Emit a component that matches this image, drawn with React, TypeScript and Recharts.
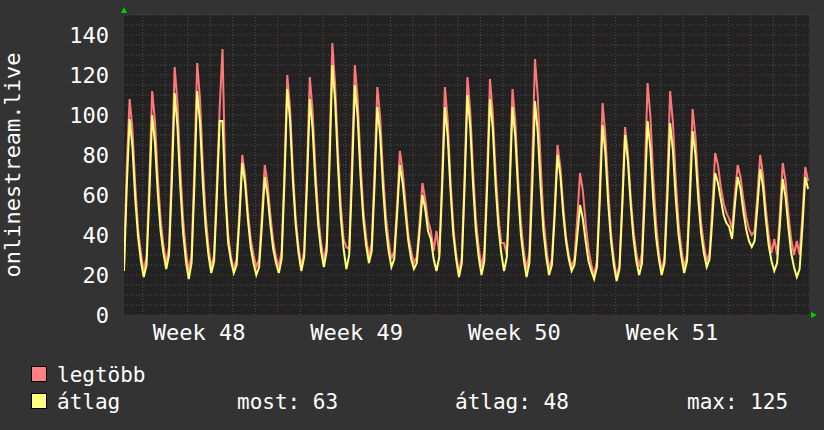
import { LineChart, Line, XAxis, YAxis, CartesianGrid, ReferenceLine } from 'recharts';

// 3-hourly samples (hours 1,4,7,...,22 of each day), first sample at hour 4 of week 48's Monday
const legtobbWeek48 = [
  25, 75, 108, 93, 65, 43, 31,
  22, 29, 67, 112, 97, 69, 48, 35,
  26, 34, 75, 124, 106, 73, 48, 32,
  22, 30, 74, 126, 108, 75, 50, 34,
  24, 30, 66, 104, 133, 66, 40, 29,
  23, 28, 52, 80, 70, 52, 38, 30,
  24, 28, 50, 75, 66, 50, 37, 29,
];
const legtobbWeek49 = [
  24, 32, 72, 120, 103, 72, 48, 34,
  24, 32, 72, 119, 102, 73, 50, 36,
  27, 36, 82, 136, 115, 82, 55, 38,
  34, 33, 78, 125, 108, 77, 53, 39,
  29, 36, 72, 114, 99, 71, 50, 37,
  28, 32, 55, 82, 72, 56, 40, 32,
  26, 29, 46, 66, 58, 47, 42, 32,
];
const legtobbWeek50 = [
  42, 30, 69, 114, 97, 67, 44, 30,
  21, 29, 70, 119, 102, 72, 48, 34,
  24, 32, 71, 118, 101, 72, 50, 36,
  36, 30, 68, 113, 97, 68, 46, 32,
  23, 31, 76, 128, 109, 76, 49, 34,
  23, 28, 54, 85, 74, 55, 39, 30,
  24, 28, 48, 71, 62, 46, 33, 25,
];
const legtobbWeek51 = [
  20, 27, 63, 106, 90, 63, 41, 28,
  19, 25, 57, 94, 81, 59, 42, 31,
  24, 31, 70, 116, 99, 69, 46, 31,
  22, 29, 67, 112, 96, 68, 46, 33,
  24, 30, 64, 103, 89, 65, 46, 35,
  27, 31, 54, 81, 75, 64, 56, 51,
  48, 43, 60, 75, 69, 58, 49, 43,
];
const legtobbWeek52 = [
  40, 42, 60, 80, 70, 53, 40, 31,
  38, 30, 51, 76, 67, 51, 38, 30,
  37, 30, 50, 74, 67,
];

const atlagWeek48 = [
  22, 65, 98, 84, 58, 39, 27,
  19, 25, 60, 100, 86, 61, 42, 31,
  23, 30, 67, 111, 94, 64, 41, 27,
  18, 26, 65, 112, 96, 66, 44, 30,
  21, 27, 60, 97, 97, 60, 36, 27,
  21, 25, 48, 76, 66, 48, 34, 26,
  20, 24, 45, 69, 60, 45, 33, 26,
];
const atlagWeek49 = [
  21, 28, 67, 113, 97, 67, 45, 31,
  22, 29, 65, 108, 93, 66, 45, 32,
  24, 32, 75, 125, 107, 75, 49, 33,
  23, 30, 69, 115, 99, 70, 48, 35,
  26, 32, 65, 104, 90, 64, 44, 32,
  24, 28, 50, 75, 66, 51, 37, 28,
  23, 26, 42, 60, 53, 42, 38, 28,
];
const atlagWeek50 = [
  22, 29, 63, 104, 89, 62, 40, 28,
  19, 26, 65, 110, 94, 65, 42, 29,
  20, 27, 64, 108, 93, 65, 44, 31,
  22, 29, 63, 104, 89, 62, 40, 28,
  19, 26, 63, 107, 91, 64, 42, 29,
  20, 25, 50, 80, 70, 51, 37, 28,
  22, 25, 39, 55, 48, 37, 27, 22,
];
const atlagWeek51 = [
  18, 24, 57, 95, 81, 56, 37, 25,
  17, 23, 54, 90, 77, 55, 38, 27,
  20, 26, 59, 97, 83, 58, 39, 28,
  20, 26, 58, 96, 82, 58, 40, 29,
  21, 27, 57, 92, 80, 58, 41, 31,
  24, 28, 48, 71, 66, 58, 50, 46,
  44, 38, 55, 69, 63, 52, 43, 37,
];
const atlagWeek52 = [
  34, 37, 54, 73, 64, 48, 35, 27,
  22, 26, 45, 68, 59, 44, 31, 24,
  19, 23, 44, 69, 63,
];

const weekLabels = ['Week 48', 'Week 49', 'Week 50', 'Week 51'];
const weekCenters = [84, 252, 420, 588];
const yTicks = [0, 20, 40, 60, 80, 100, 120, 140];
const stats = { most: 63, atlag: 48, max: 125 };

const legtobb = [...legtobbWeek48, ...legtobbWeek49, ...legtobbWeek50, ...legtobbWeek51, ...legtobbWeek52];
const atlag = [...atlagWeek48, ...atlagWeek49, ...atlagWeek50, ...atlagWeek51, ...atlagWeek52];
const data = legtobb.map((v, i) => ({ t: 4 + i * 3, legtobb: v, atlag: atlag[i] }));

const FONT = '"DejaVu Sans Mono", monospace';
const RED = '#ff7878';
const YELLOW = '#ffff78';
const GRID_MINOR = '#505050';
const GRID_MAJOR = '#7a3434';

const dayLines: number[] = [];
for (let d = 1; d <= 30; d++) dayLines.push(d * 24);
const minorY: number[] = [];
for (let v = 5; v <= 150; v += 5) minorY.push(v);

export default function App() {
  return (
    <div style={{ position: 'absolute', left: 0, top: 0, width: 824, height: 430, background: '#333333', fontFamily: FONT }}>
      <LineChart width={824} height={430} data={data} margin={{ top: 15, right: 15, bottom: 85, left: 64 }}>
        <CartesianGrid fill="#222222" horizontal={false} vertical={false} />
        {minorY.filter((v) => v % 20 !== 0).map((v) => (
          <ReferenceLine key={'hy' + v} y={v} stroke={GRID_MINOR} strokeDasharray="1 2" />
        ))}
        {dayLines.filter((t) => t % 168 !== 0).map((t) => (
          <ReferenceLine key={'vx' + t} x={t} stroke={GRID_MINOR} strokeDasharray="1 2" />
        ))}
        {yTicks.map((v) => (
          <ReferenceLine key={'my' + v} y={v} stroke={GRID_MAJOR} strokeDasharray="1 2" />
        ))}
        {dayLines.filter((t) => t % 168 === 0).map((t) => (
          <ReferenceLine key={'mx' + t} x={t} stroke={GRID_MAJOR} strokeDasharray="1 2" />
        ))}
        <XAxis
          dataKey="t"
          type="number"
          domain={[4, 734]}
          allowDataOverflow
          ticks={weekCenters}
          tickFormatter={(v: number) => weekLabels[weekCenters.indexOf(v)]}
          axisLine={false}
          tickLine={false}
          tickSize={0}
          tickMargin={9}
          height={30}
          tick={{ fill: '#ffffff', fontSize: 22, fontFamily: FONT }}
        />
        <YAxis
          domain={[0, 150]}
          allowDataOverflow
          ticks={yTicks}
          axisLine={false}
          tickLine={false}
          tickSize={0}
          tickMargin={15}
          width={60}
          tick={{ fill: '#ffffff', fontSize: 22, fontFamily: FONT }}
        />
        <Line type="linear" dataKey="legtobb" stroke={RED} strokeWidth={2} dot={false} isAnimationActive={false} />
        <Line type="linear" dataKey="atlag" stroke={YELLOW} strokeWidth={2} dot={false} isAnimationActive={false} />
      </LineChart>
      <svg width={824} height={430} style={{ position: 'absolute', left: 0, top: 0, pointerEvents: 'none' }}>
        <polygon points="121,13 124,7 127,13" fill="#00d000" />
        <polygon points="811,312 817,315 811,318" fill="#00d000" />
        <text
          transform="translate(20,165) rotate(-90)"
          textAnchor="middle"
          fill="#ffffff"
          fontSize={22}
          fontFamily={FONT}
        >
          onlinestream.live
        </text>
        <rect x={31.5} y={366.5} width={15} height={15} fill="#ff8080" stroke="#000" />
        <rect x={31.5} y={393.5} width={15} height={15} fill="#ffff80" stroke="#000" />
        <g fill="#ffffff" fontSize={21} fontFamily={FONT}>
          <text x={57} y={382}>legtöbb</text>
          <text x={57} y={409}>átlag</text>
          <text x={237} y={409}>{'most: ' + stats.most}</text>
          <text x={455} y={409}>{'átlag: ' + stats.atlag}</text>
          <text x={687} y={409}>{'max: ' + stats.max}</text>
        </g>
      </svg>
    </div>
  );
}
